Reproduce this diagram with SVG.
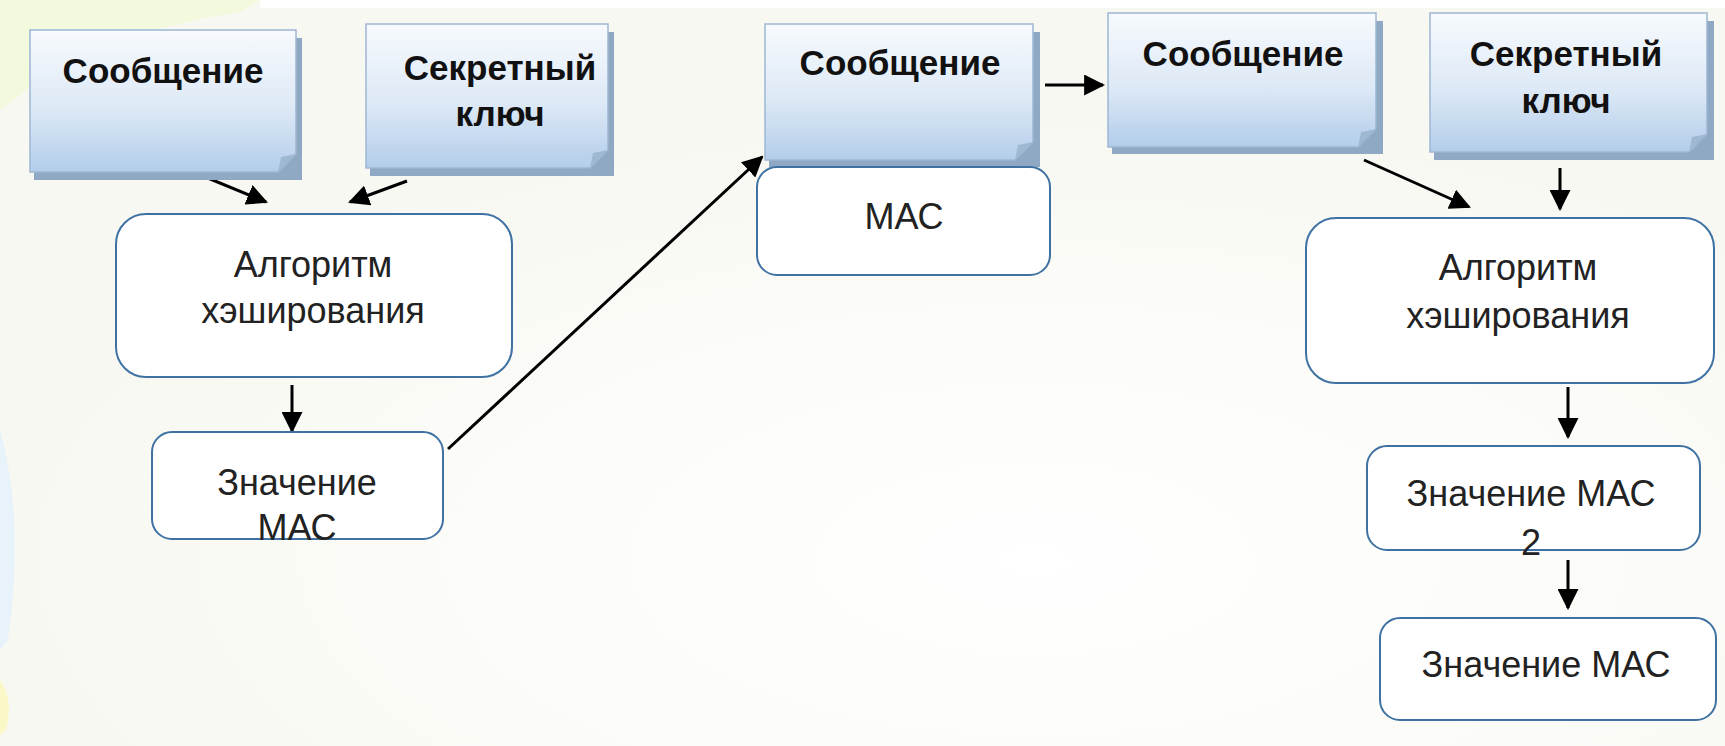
<svg xmlns="http://www.w3.org/2000/svg" width="1725" height="746" viewBox="0 0 1725 746">
  <defs>
    <linearGradient id="noteFill" x1="0" y1="0" x2="0" y2="1">
      <stop offset="0" stop-color="#f7fafd"/>
      <stop offset="0.55" stop-color="#dde9f6"/>
      <stop offset="1" stop-color="#b3cdea"/>
    </linearGradient>
    <radialGradient id="bgGlow" cx="0.6" cy="0.75" r="0.6">
      <stop offset="0" stop-color="#ffffff"/>
      <stop offset="1" stop-color="#f8f8f2"/>
    </radialGradient>
    <marker id="arrow" viewBox="0 0 10 10" refX="9" refY="5" markerWidth="7" markerHeight="7" markerUnits="strokeWidth" orient="auto">
      <path d="M0,0 L10,5 L0,10 Z" fill="#000"/>
    </marker>
    <style>
      .note-back { fill: #8fa8c3; }
      .note-face { fill: url(#noteFill); stroke: #9db7d3; stroke-width: 1.5; }
      .note-fold { fill: #9fb8d2; }
      .rbox { fill: #ffffff; stroke: #3f72a3; stroke-width: 2; }
      .bold { font-family: "Liberation Sans", Arial, sans-serif; font-weight: bold; font-size: 35px; fill: #111; text-anchor: middle; }
      .reg { font-family: "Liberation Sans", Arial, sans-serif; font-size: 36px; fill: #222; text-anchor: middle; }
      .link { stroke: #000; stroke-width: 3; fill: none; marker-end: url(#arrow); }
    </style>
  </defs>

  <!-- page background with soft slide decoration -->
  <rect width="1725" height="746" fill="url(#bgGlow)"/>
  <rect x="260" y="0" width="1465" height="8" fill="#ffffff"/>
  <path d="M0,0 L260,0 L240,12 Q120,30 40,80 L0,110 Z" fill="#f1f9d6" opacity="0.8"/>
  <path d="M0,430 Q25,520 8,640 L0,650 Z" fill="#e7f2fb"/>
  <path d="M0,680 Q14,700 6,730 L0,735 Z" fill="#fbf8c8"/>

  <!-- connectors -->
  <g id="connectors">
    <line class="link" x1="198" y1="174" x2="266" y2="202"/>
    <line class="link" x1="407" y1="181" x2="350" y2="202"/>
    <line class="link" x1="292" y1="385" x2="292" y2="431"/>
    <line class="link" x1="448" y1="449" x2="762" y2="157"/>
    <line class="link" x1="1045" y1="85" x2="1103" y2="85"/>
    <line class="link" x1="1364" y1="160" x2="1469" y2="207"/>
    <line class="link" x1="1560" y1="168" x2="1560" y2="209"/>
    <line class="link" x1="1568" y1="387" x2="1568" y2="437"/>
    <line class="link" x1="1568" y1="560" x2="1568" y2="608"/>
  </g>

  <!-- message note, sender side -->
  <g id="msg1">
    <rect class="note-back" x="34" y="38" width="268" height="142"/>
    <path class="note-face" d="M30,30 H296 V154 L278,172 H30 Z"/>
    <path class="note-fold" d="M296,154 L278,172 L281,157 Z"/>
    <text class="bold" x="163" y="83">Сообщение</text>
  </g>

  <!-- secret key note, sender side -->
  <g id="key1">
    <rect class="note-back" x="370" y="32" width="244" height="144"/>
    <path class="note-face" d="M366,24 H608 V150 L590,168 H366 Z"/>
    <path class="note-fold" d="M608,150 L590,168 L593,153 Z"/>
    <text class="bold" x="500" y="80">Секретный</text>
    <text class="bold" x="500" y="126">ключ</text>
  </g>

  <g id="hash1">
    <rect class="rbox" x="116" y="214" width="396" height="163" rx="30"/>
    <text class="reg" x="313" y="277">Алгоритм</text>
    <text class="reg" x="313" y="323">хэширования</text>
  </g>

  <g id="mac1">
    <rect class="rbox" x="152" y="432" width="291" height="107" rx="20"/>
    <text class="reg" x="297" y="495">Значение</text>
    <text class="reg" x="297" y="540">МАС</text>
  </g>

  <!-- transmitted message with its MAC -->
  <g id="msg2">
    <rect class="note-back" x="769" y="32" width="271" height="135"/>
    <path class="note-face" d="M765,24 H1033 V142 L1015,160 H765 Z"/>
    <path class="note-fold" d="M1033,142 L1015,160 L1018,145 Z"/>
    <text class="bold" x="900" y="75">Сообщение</text>
  </g>

  <g id="mac2">
    <rect class="rbox" x="757" y="167" width="293" height="108" rx="20"/>
    <text class="reg" x="904" y="229">МАС</text>
  </g>

  <!-- receiver side -->
  <g id="msg3">
    <rect class="note-back" x="1112" y="21" width="271" height="133"/>
    <path class="note-face" d="M1108,13 H1376 V129 L1358,147 H1108 Z"/>
    <path class="note-fold" d="M1376,129 L1358,147 L1361,132 Z"/>
    <text class="bold" x="1243" y="66">Сообщение</text>
  </g>

  <g id="key2">
    <rect class="note-back" x="1434" y="21" width="280" height="139"/>
    <path class="note-face" d="M1430,13 H1707 V134 L1689,152 H1430 Z"/>
    <path class="note-fold" d="M1707,134 L1689,152 L1692,137 Z"/>
    <text class="bold" x="1566" y="66">Секретный</text>
    <text class="bold" x="1566" y="113">ключ</text>
  </g>

  <g id="hash2">
    <rect class="rbox" x="1306" y="218" width="408" height="165" rx="30"/>
    <text class="reg" x="1518" y="280">Алгоритм</text>
    <text class="reg" x="1518" y="328">хэширования</text>
  </g>

  <g id="mac3">
    <rect class="rbox" x="1367" y="446" width="333" height="104" rx="20"/>
    <text class="reg" x="1531" y="506">Значение МАС</text>
    <text class="reg" x="1531" y="555">2</text>
  </g>

  <g id="mac4">
    <rect class="rbox" x="1380" y="618" width="336" height="102" rx="20"/>
    <text class="reg" x="1546" y="677">Значение МАС</text>
  </g>
</svg>
